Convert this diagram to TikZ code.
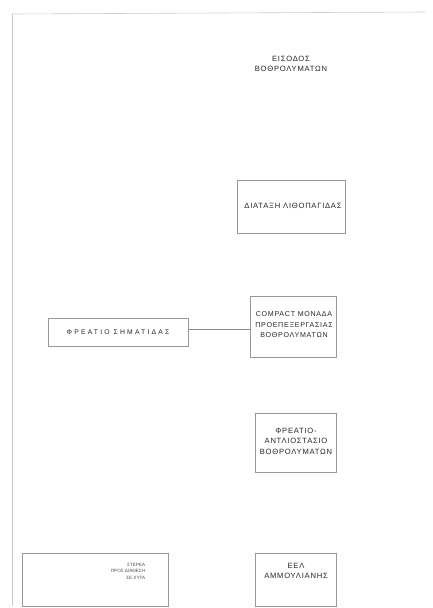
\documentclass[tikz,border=0pt]{standalone}
\usepackage{fontspec}
\setmainfont{Liberation Sans}
\newfontfamily\wide[LetterSpace=10]{Liberation Sans}
\newfontfamily\wider[LetterSpace=32]{Liberation Sans}
\begin{document}
\begin{tikzpicture}[x=1pt,y=-1pt,
  lbl/.style={font=\wide\fontsize{7.6}{10.5}\selectfont, text=black!85, align=center, inner sep=0pt},
  boxd/.style={draw=black!40, line width=0.7pt},
  small/.style={font=\fontsize{4.6}{6.5}\selectfont, text=black!70, align=right, inner sep=0pt},
  edge/.style={draw=black!45, line width=0.6pt},
  frame/.style={draw=black!20, line width=0.6pt}]
\useasboundingbox (0,0) rectangle (433,608);
\fill[white] (0,0) rectangle (433,608);
% scanned page frame
\coordinate (ftl) at (12,14);
\coordinate (ftr) at (425,12);
\coordinate (fbl) at (12,606);
\draw[frame] (ftl) -- (ftr);
\draw[frame] (ftl) -- (fbl);
% inlet text
\node[lbl] (inlet) at (291,64) {ΕΙΣΟΔΟΣ\\ΒΟΘΡΟΛΥΜΑΤΩΝ};
% boxes
\draw[boxd] (237,180) rectangle (345,233);
\node[lbl] (trap) at (293,206) {ΔΙΑΤΑΞΗ ΛΙΘΟΠΑΓΙΔΑΣ};
\draw[boxd] (250,296) rectangle (336,357);
\node[lbl,font=\wide\fontsize{7.1}{10.5}\selectfont] (compact) at (294,325) {COMPACT ΜΟΝΑΔΑ\\ΠΡΟΕΠΕΞΕΡΓΑΣΙΑΣ\\ΒΟΘΡΟΛΥΜΑΤΩΝ};
\coordinate (cl) at (250,329);
\draw[boxd] (48,318) rectangle (188,346);
\node[lbl,font=\wider\fontsize{6.8}{8}\selectfont] (pit) at (118,332) {ΦΡΕΑΤΙΟ ΣΗΜΑΤΙΔΑΣ};
\coordinate (pr) at (188,329);
\draw[edge] (pr) -- (cl);
\draw[boxd] (255,413) rectangle (336,472);
\node[lbl] (pump) at (296,441) {ΦΡΕΑΤΙΟ-\\ΑΝΤΛΙΟΣΤΑΣΙΟ\\ΒΟΘΡΟΛΥΜΑΤΩΝ};
\draw[boxd] (255,553) rectangle (336,606);
\node[lbl] (wwtp) at (296,571) {ΕΕΛ\\ΑΜΜΟΥΛΙΑΝΗΣ};
\draw[boxd] (22,553) rectangle (168,606);
\node[small] (note) at (128,571) {ΣΤΕΡΕΑ\\ΠΡΟΣ ΔΙΑΘΕΣΗ\\ΣΕ ΧΥΤΑ};
\end{tikzpicture}
\end{document}
